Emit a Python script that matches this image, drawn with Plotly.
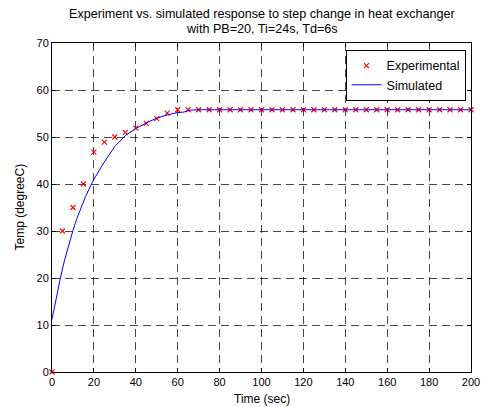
import plotly.graph_objects as go

# Experimental data (time in s, temperature in degC)
exp_t = list(range(0, 201, 5))
exp_y = [0, 30, 35, 40, 46.8, 48.9, 50.0, 51.0, 51.9, 52.9, 53.9, 55.1, 55.8, 55.8, 55.8] + [55.8] * 26

# Simulated response
sim_t = [0, 2, 4, 6, 8, 10, 12, 14, 16, 18, 20, 25, 30, 35, 40, 45, 50, 55, 60, 63, 64, 66, 70, 80, 100, 120, 140, 160, 180, 200]
sim_y = [11.2, 15.8, 20.0, 23.8, 27.2, 30.1, 32.8, 35.2, 37.3, 39.2, 41.0, 44.7, 48.0, 50.3, 51.8, 53.0, 54.0, 54.7, 55.2, 55.3, 55.5, 55.7, 55.8, 55.8, 55.8, 55.8, 55.8, 55.8, 55.8, 55.8]

x_ticks = list(range(0, 201, 20))
y_ticks = list(range(0, 71, 10))

title_lines = ["Experiment vs. simulated response to step change in heat exchanger",
               "with PB=20, Ti=24s, Td=6s"]
x_label = "Time (sec)"
y_label = "Temp (degreeC)"

FAM = "Liberation Sans, Arial, sans-serif"
tick_font = dict(family=FAM, size=11, color="black")
label_font = dict(family=FAM, size=12, color="black")
title_font = dict(family=FAM, size=12.6, color="black")

fig = go.Figure()
fig.add_trace(go.Scatter(x=exp_t, y=exp_y, mode="markers", name="Experimental", cliponaxis=False,
                         marker=dict(symbol="x-thin", size=5, color="red",
                                     line=dict(color="red", width=1.1))))
fig.add_trace(go.Scatter(x=sim_t, y=sim_y, mode="lines", name="Simulated",
                         line=dict(color="blue", width=1)))

axis_common = dict(showline=True, linecolor="black", linewidth=1, mirror="allticks",
                   ticks="inside", ticklen=4, tickcolor="black",
                   showgrid=True, gridcolor="rgba(0,0,0,0.72)", griddash="8px,5px", gridwidth=1,
                   zeroline=False, tickfont=tick_font, ticklabeloverflow="allow")

annotations = [
    dict(text=title_lines[0], x=0.5, y=1, xref="paper", yref="paper", xanchor="center", yanchor="middle",
         yshift=29, showarrow=False, font=title_font),
    dict(text=title_lines[1], x=0.5, y=1, xref="paper", yref="paper", xanchor="center", yanchor="middle",
         yshift=14, showarrow=False, font=title_font),
    dict(text=x_label, x=0.5, y=0, xref="paper", yref="paper", xanchor="center", yanchor="middle",
         yshift=-27, showarrow=False, font=label_font),
    dict(text=y_label, x=0, y=0.5, xref="paper", yref="paper", xanchor="center", yanchor="middle",
         xshift=-33, textangle=-90, showarrow=False, font=label_font),
]

fig.update_layout(
    width=492, height=407,
    paper_bgcolor="white", plot_bgcolor="white",
    margin=dict(l=52, r=13, t=43, b=35),
    font=tick_font,
    xaxis=dict(range=[0, 200], tickvals=x_ticks, **axis_common),
    yaxis=dict(range=[0, 70], tickvals=y_ticks, **axis_common),
    annotations=annotations,
    legend=dict(x=0.987, y=0.979, xanchor="right", yanchor="top", bgcolor="white",
                bordercolor="black", borderwidth=1, font=dict(family=FAM, size=12.5, color="black"),
                tracegroupgap=0),
    showlegend=True,
)

fig.write_html(
    "out.html",
    config={"displayModeBar": False},
    post_script="document.documentElement.style.margin='0';document.body.style.margin='0';"
                "document.documentElement.style.overflow='hidden';document.body.style.overflow='hidden';",
)
